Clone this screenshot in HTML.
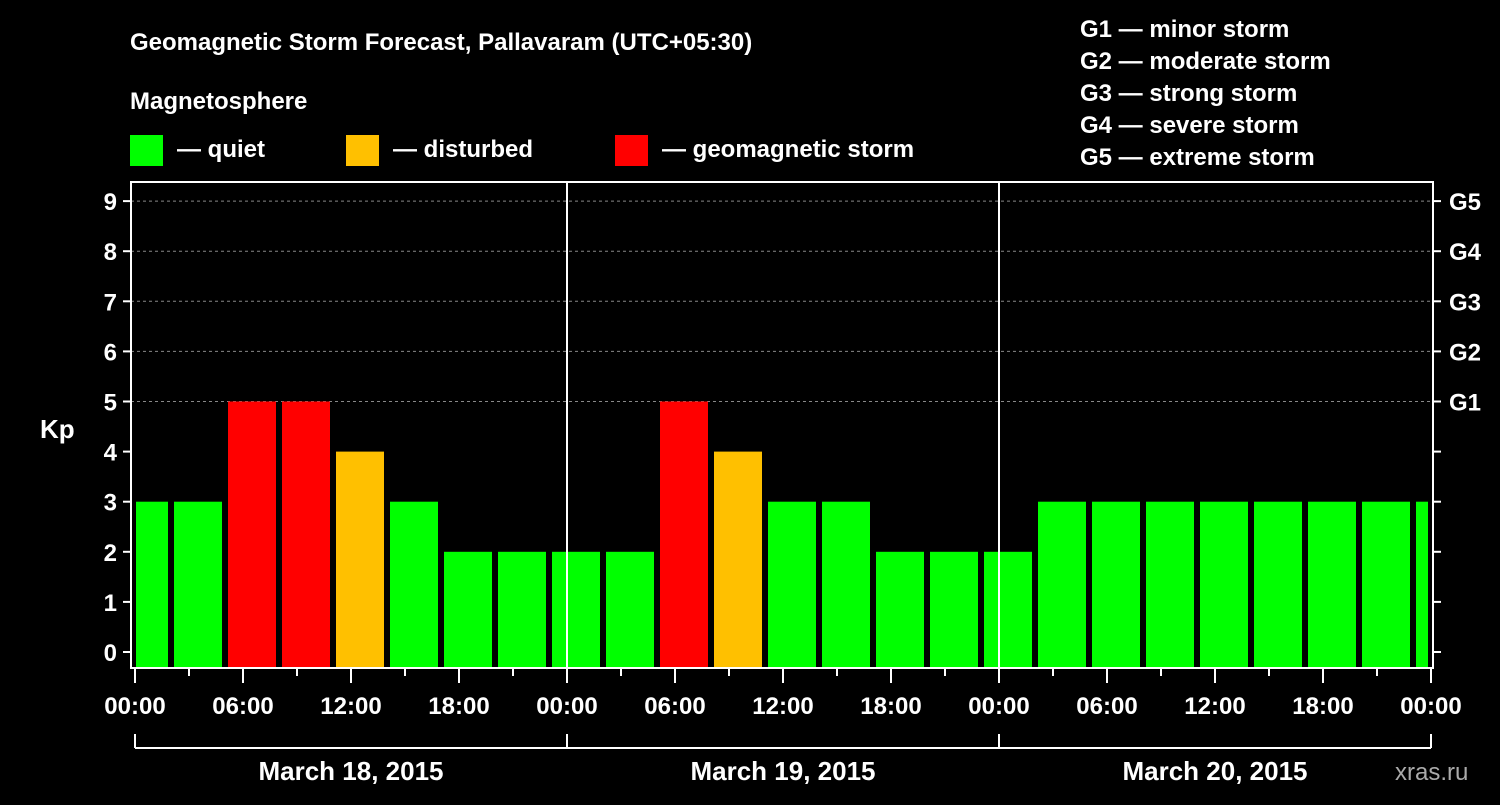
<!DOCTYPE html>
<html><head><meta charset="utf-8"><style>
body{margin:0;background:#000;width:1500px;height:800px;overflow:hidden}
svg text{font-family:"Liberation Sans",sans-serif;font-weight:bold;fill:#fff}
</style></head><body>
<svg id="c" width="1500" height="800" xmlns="http://www.w3.org/2000/svg">
<text x="130" y="50" font-size="24">Geomagnetic Storm Forecast, Pallavaram (UTC+05:30)</text>
<text x="130" y="109" font-size="24">Magnetosphere</text>
<g><rect x="130" y="135" width="33" height="31" fill="#00ff00"/><text x="177" y="157" font-size="24">— quiet</text></g>
<g><rect x="346" y="135" width="33" height="31" fill="#ffc000"/><text x="393" y="157" font-size="24">— disturbed</text></g>
<g><rect x="615" y="135" width="33" height="31" fill="#ff0000"/><text x="662" y="157" font-size="24">— geomagnetic storm</text></g>
<g font-size="24">
<text x="1080" y="37">G1 — minor storm</text><text x="1080" y="69">G2 — moderate storm</text><text x="1080" y="101">G3 — strong storm</text><text x="1080" y="133">G4 — severe storm</text><text x="1080" y="165">G5 — extreme storm</text></g>
<text x="40" y="438" font-size="26">Kp</text>
<text x="1395" y="780" font-size="24" fill="#aaa" style="fill:#aaa;font-weight:normal">xras.ru</text>
<g id="grid"></g><g id="bars"></g><g id="axes"></g>
</svg>
<script>
const kpValues=[3,3,5,5,4,3,2,2,2,2,5,4,3,3,2,2,2,3,3,3,3,3,3,3,3];
const kpTicks=[0,1,2,3,4,5,6,7,8,9];
const gLabels=["G1","G2","G3","G4","G5"];
const timeLabels=["00:00","06:00","12:00","18:00","00:00","06:00","12:00","18:00","00:00","06:00","12:00","18:00","00:00"];
const dayLabels=["March 18, 2015","March 19, 2015","March 20, 2015"];
const NS="http://www.w3.org/2000/svg";
const L=131,R=1433,T=182,B=668,X0=135,PXH=18;
const y=k=>652-50.1*k, x=h=>X0+h*PXH;
function mk(tag,at,parent){const e=document.createElementNS(NS,tag);for(const k in at)e.setAttribute(k,at[k]);document.getElementById(parent).appendChild(e);return e;}
kpTicks.forEach(k=>{
 if(k>=5){const g=mk('line',{x1:L,x2:R,y1:y(k),y2:y(k),stroke:'#888','stroke-dasharray':'3,3'},'grid');
 
 }
 const t=mk('text',{x:117,y:y(k)+9,'font-size':24,'text-anchor':'end'},'axes');t.textContent=k;
 
 
 mk('line',{x1:L-8,x2:L,y1:y(k),y2:y(k),stroke:'#fff','stroke-width':2},'axes');
 mk('line',{x1:R,x2:R+8,y1:y(k),y2:y(k),stroke:'#fff','stroke-width':2},'axes');
});
gLabels.forEach((g,i)=>{const t=mk('text',{x:1449,y:y(5+i)+9,'font-size':24},'axes');t.textContent=g;
 
 });
kpValues.forEach((v,i)=>{
 const h0=-1+3*i;let a=x(h0)+3,b=x(h0+3)-3;a=Math.max(a,L+5);b=Math.min(b,R-5);
 const c=v>=5?'#ff0000':v>=4?'#ffc000':'#00ff00';
 const r=mk('rect',{x:a,y:y(v),width:b-a,height:B-1-y(v),fill:c},'bars');
 
 
});
[1,2].forEach(d=>mk('line',{x1:x(24*d),x2:x(24*d),y1:T,y2:B,stroke:'#fff','stroke-width':2},'axes'));
mk('rect',{x:L,y:T,width:R-L,height:B-T,fill:'none',stroke:'#fff','stroke-width':2},'axes');
for(let h=0;h<=72;h+=3){const mj=h%6==0;mk('line',{x1:x(h),x2:x(h),y1:B,y2:B+(mj?15:8),stroke:'#fff','stroke-width':2},'axes');}
timeLabels.forEach((s,i)=>{const t=mk('text',{x:x(6*i),y:714,'font-size':24,'text-anchor':'middle'},'axes');t.textContent=s;
 
 });
mk('line',{x1:x(0),x2:x(72),y1:748,y2:748,stroke:'#fff','stroke-width':2},'axes');
for(let d=0;d<=3;d++)mk('line',{x1:x(24*d),x2:x(24*d),y1:734,y2:748,stroke:'#fff','stroke-width':2},'axes');
dayLabels.forEach((s,i)=>{const t=mk('text',{x:x(24*i+12),y:780,'font-size':26,'text-anchor':'middle'},'axes');t.textContent=s;
 
 });
</script>
</body></html>
